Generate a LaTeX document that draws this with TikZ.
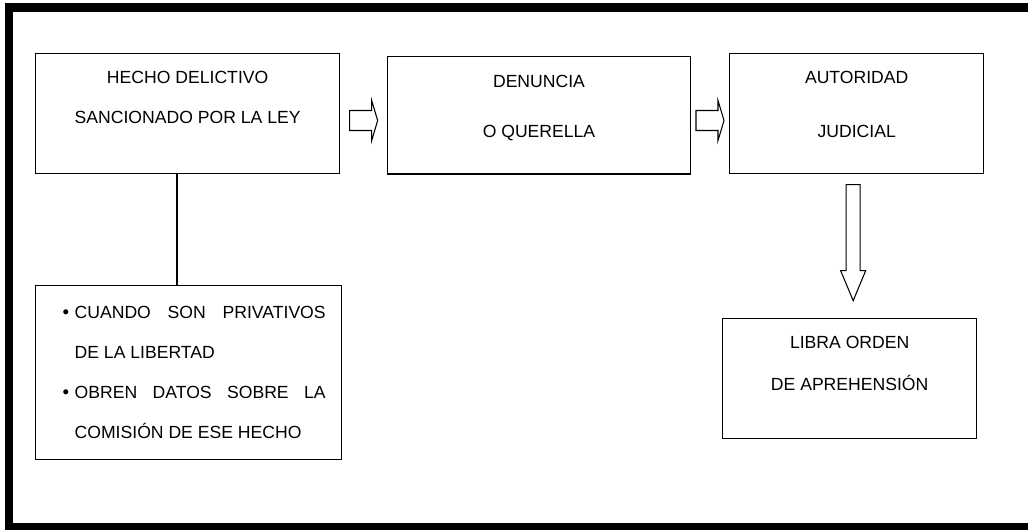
\documentclass[tikz,border=0pt]{standalone}
\usepackage{fontspec}
\setmainfont{Liberation Sans}
\usetikzlibrary{calc}
\newcommand{\boxtext}[4]{\parbox[c][#2][t]{#1}{\centering\rule{0pt}{#3}#4}}
\newcommand{\itembullet}{\makebox[9pt][l]{\raisebox{0.5pt}{\fontsize{14}{14}\selectfont\textbullet}}}
\begin{document}
\begin{tikzpicture}[
  x=0.75pt, y=-0.75pt,
  box/.style={rectangle, draw, line width=1pt, inner sep=0pt, anchor=north west, font=\fontsize{13.2}{30}\selectfont},
  rarrow/.pic={\draw[line width=0.8pt] (-14,-10) -- (8,-10) -- (8,-20) -- (14,0) -- (8,20) -- (8,10) -- (-14,10) -- cycle;},
  darrow/.pic={\draw[line width=0.8pt] (-7,-58) -- (7,-58) -- (7,28) -- (12.5,28) -- (0,58) -- (-12.5,28) -- (-7,28) -- cycle;}
]
\useasboundingbox (0,0) rectangle (1028,529);
\draw[line width=6.5pt] (9,7.5) rectangle (1045,527);

\node[box] (hecho) at (35,53) {\boxtext{228pt}{90pt}{22.5pt}{HECHO DELICTIVO\\SANCIONADO POR LA LEY}};
\node[box] (denuncia) at (387,56) {\boxtext{227pt}{88pt}{23.25pt}{DENUNCIA\\[7.5pt]O QUERELLA}};
\node[box] (autoridad) at (729,53) {\boxtext{190.5pt}{90pt}{22.5pt}{AUTORIDAD\\[10.5pt]JUDICIAL}};
\node[box] (orden) at (722,318) {\boxtext{190.5pt}{90pt}{22.5pt}{LIBRA ORDEN\\[1.5pt]DE APREHENSIÓN}};
\node[box] (casos) at (35,285) {\boxtext{229.5pt}{130.5pt}{24.75pt}{\raggedright
  \hspace*{20.25pt}\itembullet\makebox[188.25pt][s]{CUANDO SON PRIVATIVOS}\\
  \hspace*{29.25pt}DE LA LIBERTAD\\
  \hspace*{20.25pt}\itembullet\makebox[188.25pt][s]{OBREN DATOS SOBRE LA}\\
  \hspace*{29.25pt}COMISIÓN DE ESE HECHO}};

\coordinate (link) at (177,0);
\draw[line width=0.9pt] (hecho.south -| link) -- (casos.north -| link);
\pic at ($(hecho.east)!.5!(denuncia.west)+(0,6)$) {rarrow};
\pic at ($(denuncia.east)!.5!(autoridad.west)+(0,6)$) {rarrow};
\pic at ($(autoridad.south)!.5!(orden.north)+(0,-3.5)$) {darrow};
\end{tikzpicture}
\end{document}
